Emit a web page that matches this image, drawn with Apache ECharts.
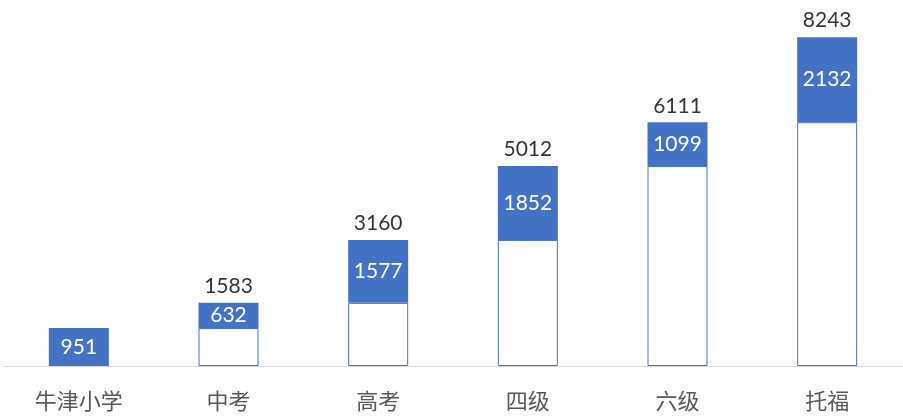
<!DOCTYPE html>
<html>
<head>
<meta charset="utf-8">
<script src="https://cdn.jsdelivr.net/npm/echarts@6/dist/echarts.min.js"></script>
<style>
  html, body { margin: 0; padding: 0; background: #fff; }
  #chart { width: 903px; height: 418px; }
</style>
</head>
<body>
<div id="chart"></div>
<script>
// levels and word counts
const categories = ['牛津小学', '中考', '高考', '四级', '六级', '托福'];
const baseValues = [0, 951, 1583, 3160, 5012, 6111];
const addedValues = [951, 632, 1577, 1852, 1099, 2132];
const totalValues = ['-', 1583, 3160, 5012, 6111, 8243];

const blue = '#4472c4';
const font = 'Lato, "Noto Sans CJK SC", sans-serif';

let chart = echarts.init(document.getElementById('chart'));
chart.setOption({
    animation: false,
    grid: { left: 4, right: 1, top: 7, bottom: 52 },
    xAxis: {
        type: 'category',
        data: categories,
        axisLine: { lineStyle: { color: '#d9d9d9', width: 1 } },
        axisTick: { show: false },
        axisLabel: {
            color: '#595959',
            fontSize: 22,
            margin: 24,
            fontFamily: '"Noto Sans CJK SC", sans-serif'
        }
    },
    yAxis: {
        type: 'value',
        min: 0,
        max: 9000,
        show: false,
        splitLine: { show: false }
    },
    series: [{
        name: 'base',
        type: 'bar',
        stack: 'total',
        barWidth: 60,
        data: baseValues.map(v => v === 0 ? { value: 0, itemStyle: { borderWidth: 0 } } : v),
        itemStyle: {
            color: '#ffffff',
            borderColor: blue,
            borderWidth: 1
        },
        silent: true
    }, {
        name: 'added',
        type: 'bar',
        stack: 'total',
        barWidth: 60,
        data: addedValues,
        itemStyle: { color: blue },
        label: {
            show: true,
            position: 'inside',
            color: '#ffffff',
            fontSize: 21,
            fontFamily: font
        }
    }, {
        name: 'total',
        type: 'scatter',
        data: totalValues,
        symbolSize: 0,
        label: {
            show: true,
            position: 'top',
            distance: 6,
            color: '#000000',
            fontSize: 21,
            fontFamily: font
        }
    }]
});
</script>
</body>
</html>
